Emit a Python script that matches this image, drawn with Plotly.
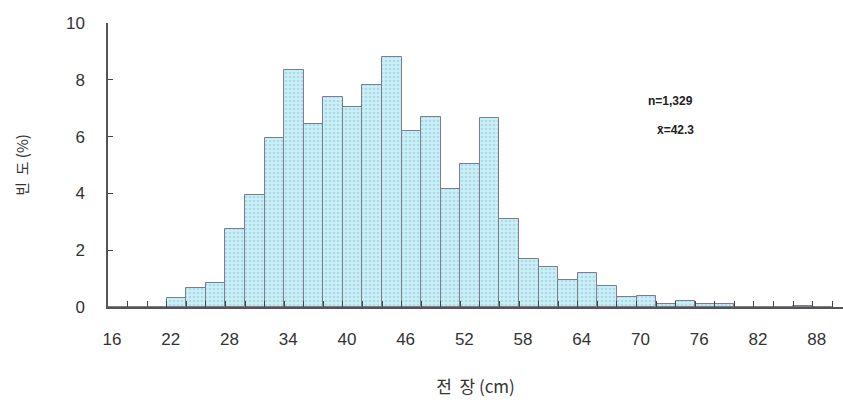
import plotly.graph_objects as go

# bin start (cm), 2-cm bins
bin_start = [16, 18, 20, 22, 24, 26, 28, 30, 32, 34, 36, 38, 40, 42, 44, 46, 48, 50, 52,
             54, 56, 58, 60, 62, 64, 66, 68, 70, 72, 74, 76, 78, 80, 82, 84, 86, 88]
freq_pct = [0, 0, 0, 0.3, 0.67, 0.85, 2.75, 3.95, 5.95, 8.35, 6.45, 7.4, 7.05, 7.8, 8.8,
            6.2, 6.7, 4.15, 5.05, 6.65, 3.1, 1.7, 1.4, 0.95, 1.2, 0.75, 0.35, 0.4,
            0.1, 0.2, 0.1, 0.1, 0, 0, 0, 0.05, 0]
bin_width = 2
x_ticks = [16, 22, 28, 34, 40, 46, 52, 58, 64, 70, 76, 82, 88]
y_ticks = [0, 2, 4, 6, 8, 10]

centers = [b + bin_width / 2 for b in bin_start]

fig = go.Figure()
fig.add_trace(go.Bar(
    x=centers, y=freq_pct, width=bin_width,
    marker=dict(color="#c4f2f5",
                line=dict(color="#7c7c8c", width=1),
                pattern=dict(shape=".", fgcolor="#a9b4e6", size=4, solidity=0.35)),
    hoverinfo="x+y",
))

fig.add_annotation(x=71.0, y=7.27, text="<b>n=1,329</b>", showarrow=False,
                   xanchor="left", font=dict(size=12, color="#222", family="Liberation Sans"))
fig.add_annotation(x=71.9, y=6.22, text="<b>x̄=42.3</b>", showarrow=False,
                   xanchor="left", font=dict(size=12, color="#222", family="Liberation Sans"))

fig.update_layout(
    width=843, height=409,
    margin=dict(l=108, r=0, t=23, b=102),
    paper_bgcolor="white", plot_bgcolor="white",
    showlegend=False, bargap=0,
    font=dict(family="Liberation Sans", color="#333"),
)
fig.update_xaxes(
    range=[16, 91.1], tickmode="array", tickvals=x_ticks,
    ticktext=[str(v) for v in x_ticks], automargin=False,
    ticks="inside", ticklen=6, tickcolor="#444", tickwidth=1,
    minor=dict(dtick=2, tick0=16, ticks="inside", ticklen=6, tickcolor="#444"),
    showline=True, linecolor="#555", linewidth=1.5,
    showgrid=False, zeroline=False,
    tickfont=dict(size=17, color="#333"), ticklabelstandoff=16, ticklabelshift=4,
    title=dict(text="전  장 (cm)", font=dict(size=17, family="Noto Sans CJK KR", color="#333"),
               standoff=33),
)
fig.update_yaxes(
    range=[0, 10], tickmode="array", tickvals=y_ticks, automargin=False,
    ticks="inside", ticklen=5, tickcolor="#444",
    showline=True, linecolor="#555", linewidth=1.5,
    showgrid=False, zeroline=False,
    tickfont=dict(size=17, color="#333"), ticklabelstandoff=18,
    title=dict(text="빈  도 (%)", font=dict(size=15, family="Noto Sans CJK KR", color="#333"),
               standoff=34),
)

fig.write_html("out.html", config={"displayModeBar": False},
               post_script="document.body.style.margin='0px';")
